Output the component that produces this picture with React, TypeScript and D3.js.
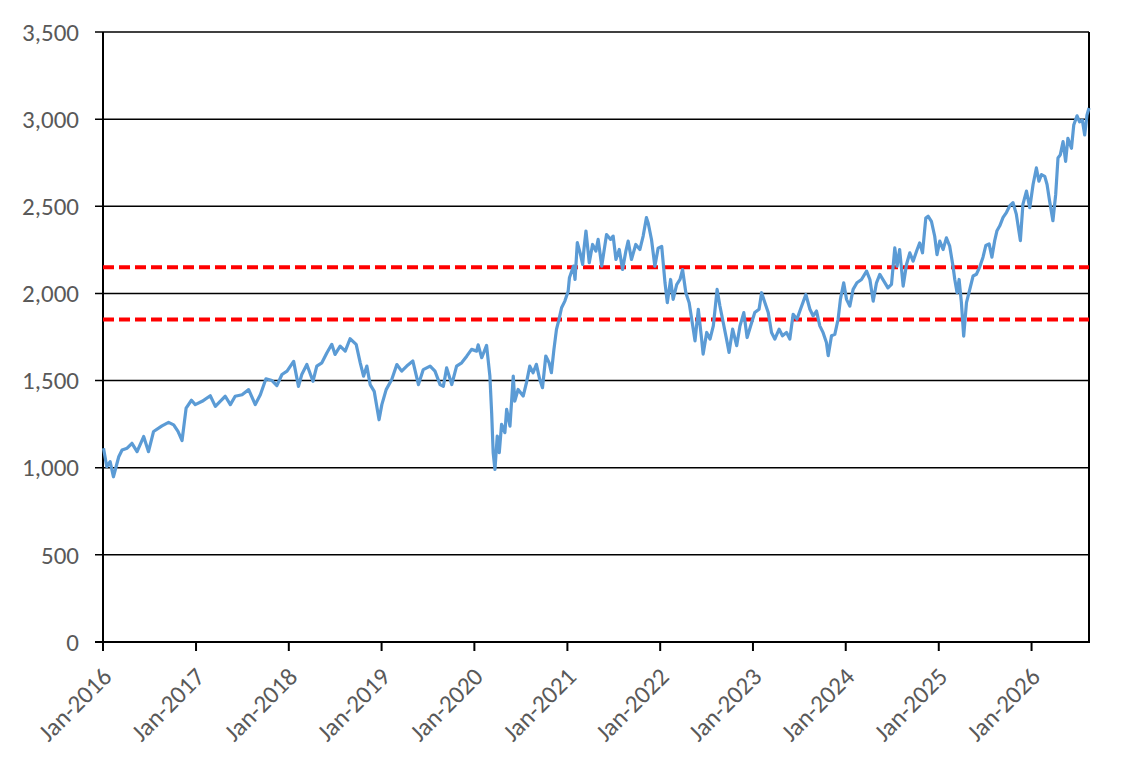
import React, { useEffect, useRef } from 'react'
import * as d3 from 'd3'

// index level (approx. every 2-3 weeks)
const priceDates = [
  '2016-01-03', '2016-01-16', '2016-01-29', '2016-02-11', '2016-03-03', '2016-03-16', '2016-04-05', '2016-04-24',
  '2016-05-14', '2016-06-09', '2016-06-28', '2016-07-18', '2016-08-20', '2016-09-15', '2016-10-05', '2016-10-22',
  '2016-11-07', '2016-11-23', '2016-12-14', '2016-12-29',
  '2017-01-25', '2017-02-26', '2017-03-18', '2017-04-06', '2017-04-26', '2017-05-16', '2017-06-04', '2017-07-01',
  '2017-07-27', '2017-08-22', '2017-09-11', '2017-10-03', '2017-10-27', '2017-11-15', '2017-12-05', '2017-12-25',
  '2018-01-20', '2018-02-08', '2018-02-21', '2018-03-13', '2018-04-06', '2018-04-21', '2018-05-11', '2018-05-31',
  '2018-06-19', '2018-07-02', '2018-07-22', '2018-08-11', '2018-08-30', '2018-09-23', '2018-10-09', '2018-10-22',
  '2018-11-04', '2018-11-17', '2018-12-03', '2018-12-22',
  '2019-01-02', '2019-01-19', '2019-02-10', '2019-03-02', '2019-03-21', '2019-04-10', '2019-05-04', '2019-05-26',
  '2019-06-14', '2019-07-11', '2019-07-30', '2019-08-19', '2019-09-01', '2019-09-14', '2019-10-04', '2019-10-23',
  '2019-11-12', '2019-12-02', '2019-12-21',
  '2020-01-10', '2020-01-16', '2020-01-30', '2020-02-18', '2020-03-02', '2020-03-09', '2020-03-15', '2020-03-22',
  '2020-03-31', '2020-04-08', '2020-04-17', '2020-04-30', '2020-05-07', '2020-05-20', '2020-06-02', '2020-06-08',
  '2020-06-21', '2020-07-11', '2020-07-24', '2020-08-06', '2020-08-19', '2020-09-01', '2020-09-14', '2020-09-25',
  '2020-10-08', '2020-10-21', '2020-10-30', '2020-11-09', '2020-11-19', '2020-11-29', '2020-12-09', '2020-12-22',
  '2021-01-04', '2021-01-09', '2021-01-25', '2021-01-31', '2021-02-09', '2021-02-20', '2021-03-02', '2021-03-07',
  '2021-03-15', '2021-03-28', '2021-04-10', '2021-04-23', '2021-05-02', '2021-05-16', '2021-06-04', '2021-06-20',
  '2021-06-30', '2021-07-11', '2021-07-24', '2021-08-06', '2021-08-19', '2021-08-28', '2021-09-10', '2021-09-27',
  '2021-10-13', '2021-10-26', '2021-11-08', '2021-11-15', '2021-11-28', '2021-12-11', '2021-12-24',
  '2022-01-07', '2022-01-20', '2022-01-29', '2022-02-11', '2022-02-21', '2022-03-07', '2022-03-20', '2022-03-30',
  '2022-04-12', '2022-04-25', '2022-05-09', '2022-05-18', '2022-05-31', '2022-06-13', '2022-06-19', '2022-07-03',
  '2022-07-16', '2022-07-29', '2022-08-13', '2022-08-24', '2022-09-06', '2022-09-19', '2022-09-29', '2022-10-13',
  '2022-10-29', '2022-11-11', '2022-11-26', '2022-12-09', '2022-12-27',
  '2023-01-08', '2023-01-25', '2023-02-04', '2023-02-17', '2023-03-02', '2023-03-15', '2023-03-28', '2023-04-14',
  '2023-04-27', '2023-05-13', '2023-05-26', '2023-06-08', '2023-06-23', '2023-07-07', '2023-07-28', '2023-08-13',
  '2023-08-26', '2023-09-08', '2023-09-21', '2023-10-04', '2023-10-17', '2023-10-24', '2023-11-06', '2023-11-19',
  '2023-12-02', '2023-12-11', '2023-12-24',
  '2024-01-04', '2024-01-17', '2024-01-30', '2024-02-14', '2024-03-03', '2024-03-23', '2024-04-05', '2024-04-18',
  '2024-05-01', '2024-05-14', '2024-05-30', '2024-06-15', '2024-06-29', '2024-07-12', '2024-07-21', '2024-07-31',
  '2024-08-14', '2024-08-27', '2024-09-09', '2024-09-22', '2024-10-08', '2024-10-18', '2024-10-29', '2024-11-11',
  '2024-11-20', '2024-12-03', '2024-12-16', '2024-12-25',
  '2025-01-05', '2025-01-18', '2025-01-31', '2025-02-13', '2025-02-26', '2025-03-05', '2025-03-14', '2025-03-22',
  '2025-03-31', '2025-04-09', '2025-04-20', '2025-05-03', '2025-05-16', '2025-05-29', '2025-06-11', '2025-06-24',
  '2025-07-05', '2025-07-18', '2025-07-29', '2025-08-09', '2025-08-18', '2025-08-29', '2025-09-11', '2025-09-24',
  '2025-10-07', '2025-10-20', '2025-11-02', '2025-11-18', '2025-11-28', '2025-12-12', '2025-12-25',
  '2026-01-07', '2026-01-20', '2026-01-30', '2026-02-09', '2026-02-22', '2026-03-03', '2026-03-13', '2026-03-26',
  '2026-04-06', '2026-04-15', '2026-04-24', '2026-05-05', '2026-05-15', '2026-05-24', '2026-06-07', '2026-06-16',
  '2026-06-29', '2026-07-09', '2026-07-20', '2026-07-29', '2026-08-07', '2026-08-15'
]

const priceValues = [
  1112, 1006, 1035, 948, 1063, 1102, 1112, 1140,
  1092, 1179, 1092, 1208, 1240, 1260, 1246, 1208,
  1156, 1342, 1387, 1362,
  1381, 1413, 1352, 1381, 1410, 1362, 1410, 1419,
  1448, 1362, 1419, 1510, 1500, 1471, 1535, 1554,
  1610, 1467, 1535, 1592, 1496, 1583, 1602, 1660,
  1708, 1650, 1698, 1669, 1740, 1708, 1602, 1525,
  1583, 1477, 1438, 1275,
  1362, 1448, 1506, 1592, 1554, 1583, 1612, 1477,
  1563, 1583, 1554, 1477, 1467, 1573, 1477, 1583,
  1602, 1640, 1679,
  1669, 1705, 1631, 1702, 1526, 1315, 1086, 990,
  1182, 1086, 1249, 1201, 1335, 1239, 1526, 1382,
  1449, 1411, 1488, 1583, 1545, 1593, 1507, 1459,
  1641, 1602, 1545, 1679, 1794, 1851, 1918, 1956,
  2013, 2090, 2157, 2080, 2291, 2233, 2166, 2252,
  2358, 2176, 2281, 2243, 2310, 2157, 2338, 2310,
  2329, 2195, 2252, 2138, 2243, 2300, 2195, 2281,
  2252, 2329, 2435, 2403, 2308, 2156, 2260,
  2270, 2061, 1947, 2080, 1966, 2051, 2080, 2137,
  2004, 1947, 1814, 1728, 1909, 1738, 1652, 1776,
  1738, 1814, 2023, 1928, 1833, 1738, 1662, 1795,
  1700, 1814, 1890, 1747, 1833,
  1890, 1909, 2004, 1947, 1890, 1776, 1738, 1795,
  1757, 1776, 1738, 1880, 1852, 1909, 1994, 1909,
  1871, 1899, 1814, 1775, 1718, 1643, 1757, 1765,
  1852, 1966, 2061,
  1966, 1927, 2023, 2061, 2080, 2128, 2080, 1956,
  2061, 2109, 2071, 2032, 2052, 2261, 2156, 2252,
  2042, 2166, 2233, 2185, 2252, 2290, 2233, 2433,
  2443, 2414, 2328, 2223,
  2300, 2252, 2319, 2271, 2156, 2080, 2004, 2080,
  1947, 1755, 1947, 2023, 2100, 2110, 2151, 2208,
  2275, 2284, 2208, 2303, 2360, 2388, 2436, 2464,
  2502, 2521, 2455, 2303, 2511, 2587, 2492,
  2625, 2720, 2644, 2682, 2672, 2625, 2530, 2417,
  2568, 2777, 2795, 2871, 2758, 2890, 2833, 2966,
  3019, 2985, 2994, 2909, 3023, 3064
]

const thresholdLevels = [2150, 1850]
const yTickValues = [0, 500, 1000, 1500, 2000, 2500, 3000, 3500]
const xTickYears = [2016, 2017, 2018, 2019, 2020, 2021, 2022, 2023, 2024, 2025, 2026]

export default function App() {
  const svgRef = useRef<SVGSVGElement>(null)

  useEffect(() => {
    document.body.style.margin = '0'
    const svg = d3.select(svgRef.current)
    svg.selectAll('*').remove()

    const width = 1144
    const height = 769
    const left = 103
    const right = 1089
    const top = 32
    const bottom = 642
    const font = "Calibri, Carlito, 'Open Sans', sans-serif"

    const parse = d3.utcParse('%Y-%m-%d')
    const data = priceDates.map((d, i) => ({ date: parse(d) as Date, value: priceValues[i] }))

    const x = d3.scaleUtc()
      .domain([new Date(Date.UTC(2016, 0, 1)), new Date(Date.UTC(2026, 7, 15))])
      .range([left, right])
    const y = d3.scaleLinear().domain([0, 3500]).range([bottom, top])

    svg.attr('width', width).attr('height', height)
    svg.append('rect').attr('width', width).attr('height', height).attr('fill', '#fff')

    // horizontal gridlines + left ticks
    svg.append('g')
      .selectAll('line')
      .data(yTickValues)
      .join('line')
      .attr('x1', left - 8)
      .attr('x2', right)
      .attr('y1', d => y(d))
      .attr('y2', d => y(d))
      .attr('stroke', '#000')
      .attr('stroke-width', 1.5)

    svg.append('g')
      .selectAll('text')
      .data(yTickValues)
      .join('text')
      .attr('x', left - 24)
      .attr('y', d => y(d))
      .attr('dy', '0.35em')
      .attr('text-anchor', 'end')
      .style('font-family', font)
      .style('font-size', '25px')
      .style('fill', '#595959')
      .text(d => d3.format(',')(d))

    // x ticks + rotated labels
    const xTicks = xTickYears.map(yr => new Date(Date.UTC(yr, 0, 1)))
    svg.append('g')
      .selectAll('line')
      .data(xTicks)
      .join('line')
      .attr('x1', d => x(d))
      .attr('x2', d => x(d))
      .attr('y1', bottom)
      .attr('y2', bottom + 9)
      .attr('stroke', '#000')
      .attr('stroke-width', 2)

    const fmt = d3.utcFormat('%b-%Y')
    svg.append('g')
      .selectAll('text')
      .data(xTicks)
      .join('text')
      .attr('transform', d => `translate(${x(d) + 4},${bottom + 30}) rotate(-45)`)
      .attr('text-anchor', 'end')
      .attr('dy', '0.35em')
      .style('font-family', font)
      .style('font-size', '25px')
      .style('fill', '#595959')
      .text(d => fmt(d))

    // frame
    svg.append('line').attr('x1', left).attr('x2', left).attr('y1', top).attr('y2', bottom + 9)
      .attr('stroke', '#000').attr('stroke-width', 2)
    svg.append('line').attr('x1', right).attr('x2', right).attr('y1', top).attr('y2', bottom)
      .attr('stroke', '#000').attr('stroke-width', 2)
    svg.append('line').attr('x1', left - 8).attr('x2', right + 1).attr('y1', bottom).attr('y2', bottom)
      .attr('stroke', '#000').attr('stroke-width', 2)

    // threshold lines
    svg.append('g')
      .selectAll('line')
      .data(thresholdLevels)
      .join('line')
      .attr('x1', left)
      .attr('x2', right)
      .attr('y1', d => y(d))
      .attr('y2', d => y(d))
      .attr('stroke', '#FF0000')
      .attr('stroke-width', 4)
      .attr('stroke-dasharray', '11,5')

    const line = d3.line<{ date: Date; value: number }>()
      .x(d => x(d.date))
      .y(d => y(d.value))

    svg.append('path')
      .datum(data)
      .attr('d', line)
      .attr('fill', 'none')
      .attr('stroke', '#5B9BD5')
      .attr('stroke-width', 3.2)
      .attr('stroke-linejoin', 'round')
  }, [])

  return <svg ref={svgRef} style={{ display: 'block' }} />
}
